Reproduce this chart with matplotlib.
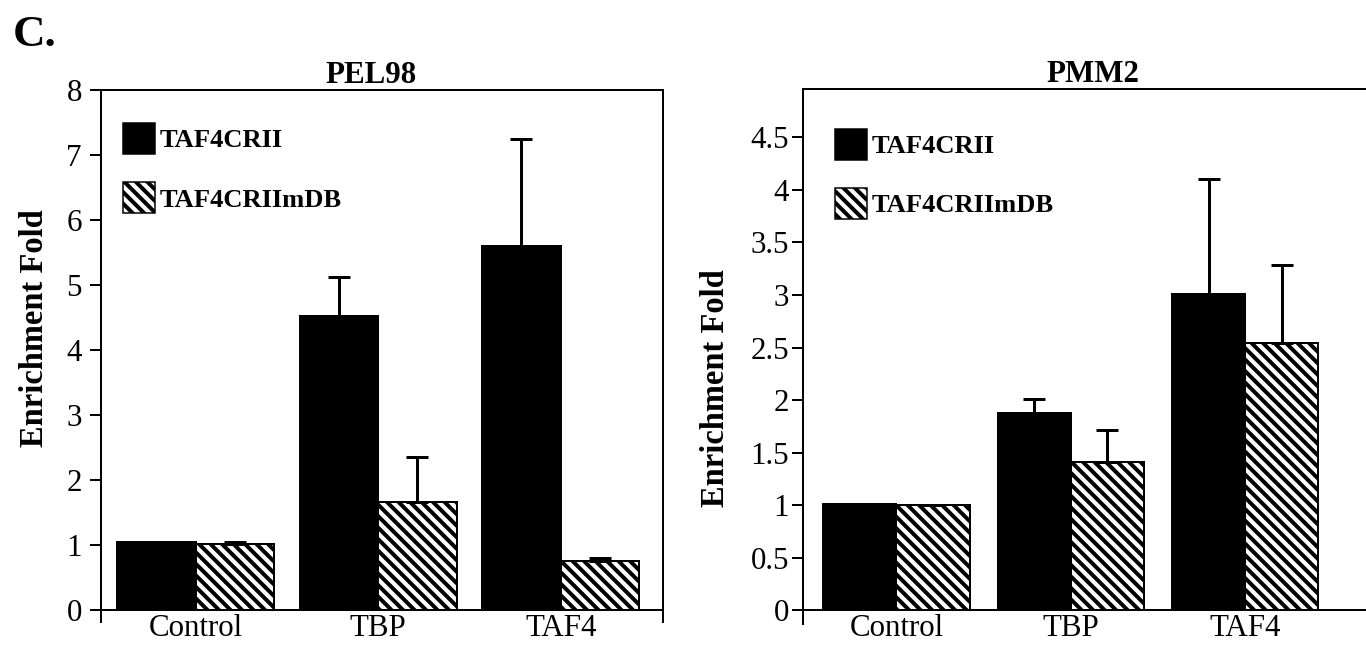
import matplotlib
matplotlib.use("Agg")
import matplotlib.pyplot as plt
import numpy as np
from matplotlib.patches import Patch

# ---------------- data ----------------
categories = ["Control", "TBP", "TAF4"]
series_names = ["TAF4CRII", "TAF4CRIImDB"]

pel98_wt = [1.04, 4.52, 5.60]
pel98_wt_err = [0.0, 0.60, 1.65]
pel98_mut = [1.01, 1.66, 0.75]
pel98_mut_err = [0.03, 0.69, 0.05]

pmm2_wt = [1.01, 1.88, 3.01]
pmm2_wt_err = [0.0, 0.13, 1.09]
pmm2_mut = [1.00, 1.41, 2.54]
pmm2_mut_err = [0.0, 0.31, 0.75]

pel98_yticks = [0, 1, 2, 3, 4, 5, 6, 7, 8]
pmm2_yticks = [0, 0.5, 1, 1.5, 2, 2.5, 3, 3.5, 4, 4.5]
pmm2_yticklabels = ["0", "0.5", "1", "1.5", "2", "2.5", "3", "3.5", "4", "4.5"]

# ---------------- style ----------------
DPI = 138
def pt(px):
    return px * 72.0 / DPI

HATCH = "\\" * 4

plt.rcParams["font.family"] = ["Liberation Serif", "DejaVu Serif"]
plt.rcParams["hatch.linewidth"] = pt(4.0)
plt.rcParams["hatch.color"] = "black"

fig = plt.figure(figsize=(1366 / DPI, 650 / DPI), dpi=DPI)
W, H = 1366.0, 650.0

def make_panel(rect, title, title_x, wt, wt_err, mut, mut_err, ylim, yticks,
               yticklabels, xlim, bw, ypad, label_xy, legend_xy):
    l, t, r, b = rect
    ax = fig.add_axes([l / W, 1 - b / H, (r - l) / W, (b - t) / H])
    x = np.arange(len(categories))
    ax.bar(x - bw / 2, wt, width=bw, color="black", edgecolor="black",
           linewidth=pt(2), zorder=2)
    ax.bar(x + bw / 2, mut, width=bw, color="white", edgecolor="black",
           hatch=HATCH, linewidth=pt(2), zorder=2)
    ax.errorbar(x - bw / 2, wt, yerr=[np.zeros(len(wt)), wt_err], fmt="none",
                ecolor="black", elinewidth=pt(3), capsize=pt(11),
                capthick=pt(3), zorder=3)
    ax.errorbar(x + bw / 2, mut, yerr=[np.zeros(len(mut)), mut_err], fmt="none",
                ecolor="black", elinewidth=pt(3), capsize=pt(11),
                capthick=pt(3), zorder=3)
    ax.set_xlim(*xlim)
    ax.set_ylim(*ylim)
    ax.set_yticks(yticks)
    ax.set_yticklabels(yticklabels)
    ax.set_xticks(x)
    ax.set_xticklabels(categories)
    for s in ax.spines.values():
        s.set_linewidth(pt(2))
    ax.spines["bottom"].set_position(("data", 0))
    ax.tick_params(axis="y", direction="out", length=pt(11), width=pt(2),
                   labelsize=pt(31), pad=pt(ypad))
    ax.tick_params(axis="x", length=0, labelsize=pt(31), pad=pt(4))
    ax.set_title(title, fontweight="bold", fontsize=pt(31), pad=pt(5),
                 x=title_x)
    ax.set_ylabel("Enrichment Fold", fontweight="bold", fontsize=pt(32.5))
    ax.yaxis.set_label_coords(*label_xy)
    handles = [Patch(facecolor="black", edgecolor="black", linewidth=pt(1.5)),
               Patch(facecolor="white", edgecolor="black", hatch=HATCH,
                     linewidth=pt(1.5))]
    ax.legend(handles, series_names, loc="upper left",
              bbox_to_anchor=legend_xy, frameon=False, borderpad=0,
              borderaxespad=0, handlelength=32 / 26.5, handleheight=38 / 26.5,
              handletextpad=5 / 26.5, labelspacing=28 / 26.5,
              prop={"weight": "bold", "size": pt(26.5)})
    return ax

ax1 = make_panel((101, 90, 663, 622), "PEL98", 0.48,
                 pel98_wt, pel98_wt_err, pel98_mut, pel98_mut_err,
                 (-0.185, 8), pel98_yticks, [str(v) for v in pel98_yticks],
                 (-0.518, 2.56), 0.43, 8, (-0.091, 0.553), (0.039, 0.938))

ax2 = make_panel((803, 89, 1383, 624), "PMM2", 0.5,
                 pmm2_wt, pmm2_wt_err, pmm2_mut, pmm2_mut_err,
                 (-0.13, 4.96), pmm2_yticks, pmm2_yticklabels,
                 (-0.536, 2.79), 0.42, 3, (-0.124, 0.441), (0.0545, 0.926))

fig.text(13 / W, 1 - 46 / H, "C.", fontsize=pt(45), fontweight="bold",
         ha="left", va="baseline")

fig.savefig("out.png", dpi=DPI)
